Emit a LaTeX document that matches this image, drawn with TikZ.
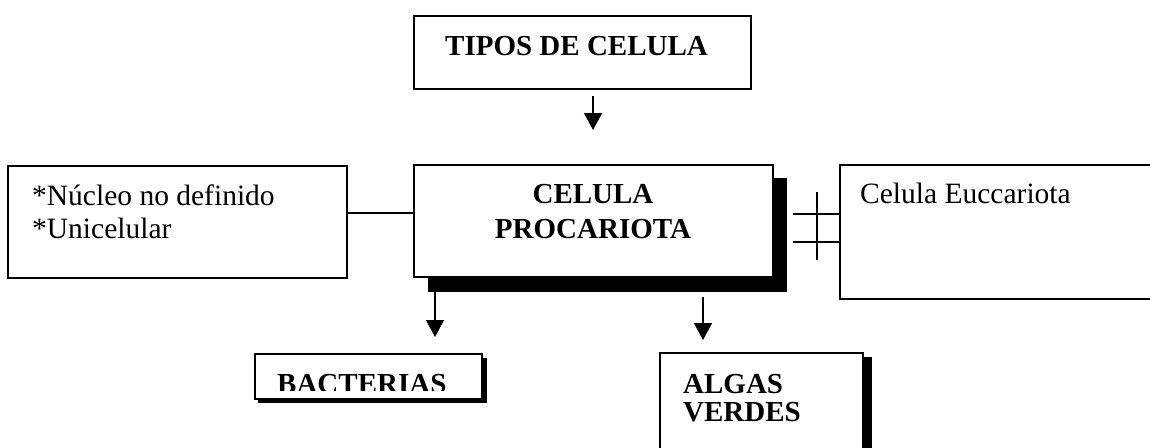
\documentclass[tikz,border=0pt]{standalone}
\usepackage{fontspec}
\setmainfont{Liberation Serif}
\usetikzlibrary{arrows.meta}
\tikzset{
  box/.style={draw=black, line width=1.6pt, fill=white, rectangle, inner sep=0pt, anchor=north west},
  shade/.style={fill=black, draw=none, rectangle, inner sep=0pt, anchor=north west},
  btxt/.style={font=\fontsize{29}{35}\selectfont\bfseries, inner sep=0pt, anchor=base west},
  rtxt/.style={font=\fontsize{29.5}{33}\selectfont, inner sep=0pt, anchor=base west},
  arr/.style={line width=1.5pt, -{Triangle[width=18pt,length=17pt]}},
  conn/.style={line width=1.5pt}
}
\begin{document}
\begin{tikzpicture}[x=1pt,y=-1pt]
\useasboundingbox (0,0) rectangle (1150,447);
% top box
\node[box, minimum width=337pt, minimum height=73pt] (tipos) at (413,15) {};
\node[btxt] (tiposT) at (445,55) {TIPOS DE CELULA};
% central box with shadow
\node[shade, minimum width=359pt, minimum height=114pt] (procS) at (428,178) {};
\node[box, minimum width=359pt, minimum height=112pt] (proc) at (413,164) {};
\node[btxt, anchor=base] (procT1) at (593,203) {CELULA};
\node[btxt, anchor=base] (procT2) at (593,238) {PROCARIOTA};
% left box
\node[box, minimum width=339pt, minimum height=112pt] (carac) at (7,165) {};
\node[rtxt] (caracT1) at (32,205) {*Núcleo no definido};
\node[rtxt] (caracT2) at (32,238) {*Unicelular};
% right box
\node[box, minimum width=330pt, minimum height=134pt] (euc) at (839,164) {};
\node[rtxt] (eucT) at (860,203) {Celula Euccariota};
% bacterias
\node[shade, minimum width=229pt, minimum height=45pt] (bacS) at (258,358) {};
\node[box, minimum width=227pt, minimum height=45pt] (bac) at (254,353) {};
\begin{scope}
  \clip (255,360) rectangle (480,390);
  \node[btxt] (bacT) at (277,393) {BACTERIAS};
\end{scope}
% algas
\node[shade, minimum width=208pt, minimum height=100pt] (algS) at (664,357) {};
\node[box, minimum width=203pt, minimum height=110pt] (alg) at (659,352) {};
\node[btxt] (algT1) at (683,393) {ALGAS};
\node[btxt] (algT2) at (683,421) {VERDES};
% connectors
\coordinate (a1s) at (593,96);
\coordinate (a1e) at (593,130);
\draw[arr] (a1s) -- (a1e);
\coordinate (a2s) at (435,292);
\coordinate (a2e) at (435,337);
\draw[arr] (a2s) -- (a2e);
\coordinate (a3s) at (703,297);
\coordinate (a3e) at (703,340);
\draw[arr] (a3s) -- (a3e);
\draw[conn] (carac.east |- 0,213) -- (proc.west |- 0,213);
\coordinate (h1) at (793,214);
\coordinate (h2) at (793,242);
\coordinate (v1) at (817,192);
\coordinate (v2) at (817,260);
\draw[conn] (h1) -- (euc.west |- h1);
\draw[conn] (h2) -- (euc.west |- h2);
\draw[conn] (v1) -- (v2);
\end{tikzpicture}
\end{document}
